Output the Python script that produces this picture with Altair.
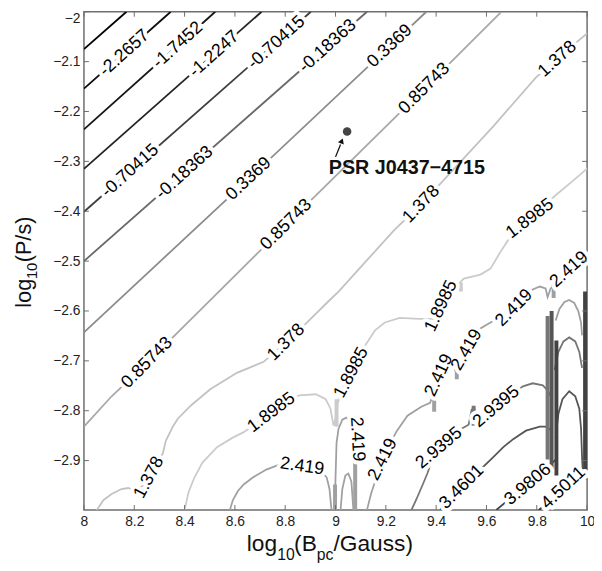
import altair as alt
import pandas as pd

FONT = "Liberation Sans"
FRAME = "#6e6e6e"
W, H = 510, 505

X_TICKS = [8, 8.2, 8.4, 8.6, 8.8, 9, 9.2, 9.4, 9.6, 9.8, 10]
Y_TICKS = [-2, -2.1, -2.2, -2.3, -2.4, -2.5, -2.6, -2.7, -2.8, -2.9]

LEVELS = ["-2.7862", "-2.2657", "-1.7452", "-1.2247", "-0.70415", "-0.18363", "0.3369",
          "0.85743", "1.378", "1.8985", "2.419", "2.9395", "3.4601", "3.9806", "4.5011"]
LEVEL_COLORS = ["#000000", "#0d0d0d", "#151515", "#222222", "#3e3e3e", "#686868", "#8c8c8c",
                "#a8a8a8", "#c2c2c2", "#cbcbcb", "#a0a0a0", "#767676", "#565656", "#424242", "#323232"]

# ---- contour segments ----
S01_X = [8.0, 8.169]
S01_Y = [-2.075, -2.0]
S02_X = [8.0, 8.345]
S02_Y = [-2.154, -2.0]
S03_X = [8.0, 8.522]
S03_Y = [-2.236, -2.0]
S04_X = [8.0, 8.706]
S04_Y = [-2.315, -2.0]
S05_X = [8.0, 8.902]
S05_Y = [-2.401, -2.0]
S06_X = [8.0, 9.125]
S06_Y = [-2.500, -2.0]
S07_X = [8.0, 8.655, 9.216, 9.361]
S07_Y = [-2.643, -2.335, -2.069, -2.0]
S08_X = [8.0, 8.110, 8.251, 8.804, 9.353, 9.659]
S08_Y = [-2.832, -2.771, -2.704, -2.427, -2.154, -2.0]
S09_X = [8.051, 8.078, 8.110, 8.149, 8.176, 8.204, 8.235, 8.259, 8.286, 8.314, 8.325, 8.353,
         8.373, 8.424, 8.502, 8.608, 8.714, 8.804, 8.875, 8.973, 9.012, 9.118, 9.235, 9.341,
         9.471, 9.627, 9.796, 9.882, 9.961, 10.008]
S09_Y = [-2.999, -2.979, -2.967, -2.957, -2.955, -2.961, -2.950, -2.934, -2.908, -2.885, -2.861,
         -2.832, -2.816, -2.790, -2.757, -2.724, -2.702, -2.663, -2.629, -2.580, -2.561, -2.502,
         -2.437, -2.386, -2.315, -2.230, -2.132, -2.095, -2.060, -2.040]
S10_X = [8.400, 8.416, 8.439, 8.471, 8.529, 8.588, 8.635, 8.745, 8.855, 8.922, 8.961, 8.980,
         8.992, 9.000, 9.008, 9.035, 9.063, 9.090, 9.118, 9.157, 9.196, 9.255, 9.333, 9.392,
         9.420, 9.451, 9.490, 9.510, 9.576, 9.616, 9.655, 9.686, 9.773, 9.875, 9.941, 10.008]
S10_Y = [-2.999, -2.963, -2.934, -2.904, -2.873, -2.855, -2.843, -2.804, -2.769, -2.767, -2.777,
         -2.796, -2.830, -2.816, -2.786, -2.747, -2.724, -2.698, -2.669, -2.639, -2.623, -2.614,
         -2.616, -2.616, -2.590, -2.561, -2.545, -2.535, -2.527, -2.515, -2.482, -2.458, -2.415,
         -2.368, -2.340, -2.311]
S11A_X = [8.580, 8.592, 8.612, 8.635, 8.671, 8.725, 8.776, 8.867, 8.945, 8.965, 8.976, 8.984]
S11A_Y = [-2.999, -2.979, -2.961, -2.948, -2.934, -2.918, -2.908, -2.912, -2.922, -2.934, -2.957, -2.999]
S11B_X = [8.996, 9.000, 9.004, 9.012, 9.027, 9.043, 9.059, 9.075, 9.082, 9.082, 9.082]
S11B_Y = [-2.999, -2.934, -2.865, -2.836, -2.818, -2.814, -2.822, -2.847, -2.885, -2.934, -2.999]
S11C_X = [9.020, 9.027, 9.039, 9.051, 9.063, 9.071]
S11C_Y = [-2.999, -2.957, -2.930, -2.926, -2.942, -2.999]
S11D_X = [9.125, 9.141, 9.165, 9.188, 9.212, 9.243, 9.286, 9.341, 9.376, 9.392, 9.412, 9.439,
          9.463, 9.478, 9.494, 9.522, 9.549, 9.576, 9.616, 9.667, 9.710, 9.753, 9.784, 9.812,
          9.835, 9.843, 9.855, 9.875, 9.929, 9.980, 10.008]
S11D_Y = [-2.999, -2.967, -2.930, -2.898, -2.871, -2.841, -2.810, -2.792, -2.784, -2.761, -2.729,
          -2.706, -2.702, -2.722, -2.702, -2.678, -2.655, -2.635, -2.623, -2.610, -2.594, -2.572,
          -2.557, -2.551, -2.555, -2.572, -2.555, -2.547, -2.517, -2.494, -2.482]
S11E_X = [9.875, 9.890, 9.910, 9.929, 9.949, 9.965, 9.976, 9.980]
S11E_Y = [-2.619, -2.596, -2.582, -2.578, -2.584, -2.600, -2.623, -2.649]
S12A_X = [9.302, 9.322, 9.345, 9.365, 9.384, 9.412, 9.451, 9.494, 9.529, 9.541, 9.553, 9.561,
          9.596, 9.639, 9.694, 9.745, 9.784, 9.824, 9.843, 9.855]
S12A_Y = [-2.999, -2.977, -2.950, -2.926, -2.898, -2.875, -2.857, -2.838, -2.828, -2.798, -2.798,
          -2.826, -2.812, -2.792, -2.769, -2.751, -2.745, -2.749, -2.759, -2.771]
S12B_X = [9.871, 9.886, 9.906, 9.929, 9.953, 9.969, 9.980]
S12B_Y = [-2.718, -2.682, -2.661, -2.653, -2.661, -2.682, -2.714]
S13A_X = [9.416, 9.451, 9.502, 9.549, 9.588, 9.627, 9.667, 9.706, 9.757, 9.812, 9.835, 9.855]
S13A_Y = [-2.999, -2.979, -2.953, -2.930, -2.912, -2.893, -2.873, -2.857, -2.840, -2.832, -2.832, -2.838]
S13B_X = [9.875, 9.886, 9.902, 9.929, 9.953, 9.969, 9.976, 9.980, 9.984]
S13B_Y = [-2.855, -2.806, -2.777, -2.761, -2.771, -2.796, -2.836, -2.894, -2.934]
S14_X = [9.639, 9.706, 9.765, 9.831, 9.875]
S14_Y = [-2.999, -2.971, -2.948, -2.920, -2.898]
S15_X = [9.808, 9.863, 9.906, 9.961, 9.992]
S15_Y = [-2.999, -2.977, -2.955, -2.930, -2.914]

SEGMENTS = [
    ("-2.7862", S01_X, S01_Y), ("-2.2657", S02_X, S02_Y), ("-1.7452", S03_X, S03_Y),
    ("-1.2247", S04_X, S04_Y), ("-0.70415", S05_X, S05_Y), ("-0.18363", S06_X, S06_Y),
    ("0.3369", S07_X, S07_Y), ("0.85743", S08_X, S08_Y), ("1.378", S09_X, S09_Y),
    ("1.8985", S10_X, S10_Y), ("2.419", S11A_X, S11A_Y), ("2.419", S11B_X, S11B_Y),
    ("2.419", S11C_X, S11C_Y), ("2.419", S11D_X, S11D_Y), ("2.419", S11E_X, S11E_Y),
    ("2.9395", S12A_X, S12A_Y), ("2.9395", S12B_X, S12B_Y), ("3.4601", S13A_X, S13A_Y),
    ("3.4601", S13B_X, S13B_Y), ("3.9806", S14_X, S14_Y), ("4.5011", S15_X, S15_Y),
]

# thick overlapping contour bundles (vertical streaks)
BAR_LEVEL = ["2.9395", "3.4601", "3.9806", "3.9806", "1.8985", "2.419", "2.419", "2.419",
             "2.419", "2.9395", "1.8985", "2.419"]
BAR_X = [9.843, 9.859, 9.878, 9.992, 9.004, 8.998, 9.078, 9.392, 9.482, 9.549, 9.498, 9.867]
BAR_Y1 = [-2.610, -2.600, -2.659, -2.561, -2.777, -2.948, -2.869, -2.751, -2.712, -2.790, -2.543, -2.547]
BAR_Y2 = [-2.898, -2.918, -2.930, -2.938, -2.832, -2.999, -2.999, -2.802, -2.737, -2.830, -2.561, -2.574]

# inline contour labels
LABEL_TEXT = ["-2.2657", "-1.7452", "-1.2247", "-0.70415", "-0.70415", "-0.18363", "-0.18363",
              "0.3369", "0.3369", "0.85743", "0.85743", "0.85743", "1.378", "1.378", "1.378",
              "1.378", "1.8985", "1.8985", "1.8985", "1.8985", "2.419", "2.419", "2.419", "2.419",
              "2.419", "2.419", "2.419", "2.9395", "2.9395", "3.4601", "3.9806", "4.5011"]
LABEL_X = [8.161, 8.373, 8.518, 8.184, 8.765, 8.400, 8.969, 8.655, 9.216, 8.251, 8.804, 9.353,
           8.259, 8.804, 9.341, 9.882, 8.745, 9.063, 9.420, 9.773, 8.867, 9.086, 9.188, 9.412,
           9.522, 9.710, 9.929, 9.412, 9.639, 9.502, 9.765, 9.906]
LABEL_Y = [-2.083, -2.067, -2.085, -2.319, -2.062, -2.323, -2.069, -2.335, -2.069, -2.704, -2.427,
           -2.154, -2.934, -2.663, -2.386, -2.095, -2.804, -2.724, -2.590, -2.415, -2.912, -2.857,
           -2.898, -2.729, -2.678, -2.594, -2.517, -2.875, -2.792, -2.953, -2.948, -2.955]
LABEL_ANGLE = [318, 318, 318, 318, 318, 318, 318, 317, 317, 315, 315, 315, 298, 315, 314, 318,
               323, 298, 295, 323, 8, 87, 297, 295, 300, 315, 318, 320, 320, 315, 320, 317]

# pulsar annotation
PSR_X = [9.046]
PSR_Y = [-2.240]
PSR_NAME = "PSR J0437\u22124715"
PSR_TEXT_X = [8.973]
PSR_TEXT_Y = [-2.325]
ARROW_X = [9.000, 9.020]
ARROW_Y = [-2.291, -2.266]
ARROW_HEAD_X = [9.025]
ARROW_HEAD_Y = [-2.259]

# ---------------------------------------------------------------
rows = []
for k, (lev, xs, ys) in enumerate(SEGMENTS):
    for i, (xv, yv) in enumerate(zip(xs, ys)):
        rows.append({"seg": k, "i": i, "level": lev, "x": xv, "y": yv})
lines_df = pd.DataFrame(rows)
bars_df = pd.DataFrame({"level": BAR_LEVEL, "x": BAR_X, "y1": BAR_Y1, "y2": BAR_Y2})
labels_df = pd.DataFrame({"t": LABEL_TEXT, "x": LABEL_X, "y": LABEL_Y, "a": LABEL_ANGLE})

XS = alt.Scale(domain=[8, 10], nice=False, zero=False)
YS = alt.Scale(domain=[-2.999, -2.0], nice=False, zero=False)
XAX = alt.Axis(values=X_TICKS, format="~g", title=None, grid=False, domain=False, ticks=False,
               labelFontSize=14, labelColor="#222", labelFont=FONT, labelPadding=5,
               labelFlush=False, labelOverlap=False)
YAX = alt.Axis(values=Y_TICKS, format="~g", title=None, grid=False, domain=False, ticks=False,
               labelFontSize=14, labelColor="#222", labelFont=FONT, labelPadding=4,
               labelFlush=True, labelOverlap=False)


def X(f):
    return alt.X(f"{f}:Q", scale=XS, axis=XAX)


def Y(f):
    return alt.Y(f"{f}:Q", scale=YS, axis=YAX)


COLOR = alt.Color("level:N", scale=alt.Scale(domain=LEVELS, range=LEVEL_COLORS), legend=None)

lines = alt.Chart(lines_df).mark_line(clip=True, strokeWidth=1.8).encode(
    x=X("x"), y=Y("y"), color=COLOR, detail="seg:N", order="i:Q")

bars = alt.Chart(bars_df).mark_rule(clip=True, strokeWidth=4).encode(
    x=X("x"), y=Y("y1"), y2="y2:Q", color=COLOR)

halo = alt.Chart(labels_df).mark_text(fontSize=18, font=FONT, fill="white", stroke="white",
                                      strokeWidth=8, strokeJoin="round").encode(
    x=X("x"), y=Y("y"), text="t:N", angle=alt.Angle("a:Q", scale=None))
labels = alt.Chart(labels_df).mark_text(fontSize=18, font=FONT, color="black").encode(
    x=X("x"), y=Y("y"), text="t:N", angle=alt.Angle("a:Q", scale=None))

xt = pd.DataFrame({"v": X_TICKS})
yt = pd.DataFrame({"v": Y_TICKS})
tick_b = alt.Chart(xt).mark_rule(color=FRAME, strokeWidth=1).encode(
    x=X("v"), y=alt.value(H), y2=alt.value(H - 5))
tick_t = alt.Chart(xt).mark_rule(color=FRAME, strokeWidth=1).encode(
    x=X("v"), y=alt.value(0), y2=alt.value(5))
tick_l = alt.Chart(yt).mark_rule(color=FRAME, strokeWidth=1).encode(
    y=Y("v"), x=alt.value(0), x2=alt.value(5))
tick_r = alt.Chart(yt).mark_rule(color=FRAME, strokeWidth=1).encode(
    y=Y("v"), x=alt.value(W), x2=alt.value(W - 5))

psr_dot = alt.Chart(pd.DataFrame({"x": PSR_X, "y": PSR_Y})).mark_point(
    filled=True, size=75, color="#444444", opacity=1).encode(x=X("x"), y=Y("y"))
arrow = alt.Chart(pd.DataFrame({"x": ARROW_X, "y": ARROW_Y, "i": [0, 1]})).mark_line(
    color="#111", strokeWidth=1.3).encode(x=X("x"), y=Y("y"), order="i:Q")
arrow_head = alt.Chart(pd.DataFrame({"x": ARROW_HEAD_X, "y": ARROW_HEAD_Y})).mark_point(
    shape="triangle-up", filled=True, size=40, color="#111", opacity=1, angle=21).encode(
    x=X("x"), y=Y("y"))
psr_text = alt.Chart(pd.DataFrame({"x": PSR_TEXT_X, "y": PSR_TEXT_Y, "t": [PSR_NAME]})).mark_text(
    fontSize=20, font=FONT, fontWeight="bold", align="left", baseline="alphabetic",
    color="#111").encode(x=X("x"), y=Y("y"), text="t:N")


def piece(text, x, y, size, angle=0):
    return alt.Chart(alt.Data(values=[{"k": 1}])).mark_text(
        text=text, fontSize=size, font=FONT, align="left", baseline="alphabetic",
        angle=angle, color="#111").encode(x=alt.value(x), y=alt.value(y))


titles = [
    piece("log", 165, 547, 23), piece("10", 196, 556, 16), piece("(B", 213, 547, 23),
    piece("pc", 236, 556, 16), piece("/Gauss)", 253, 547, 23),
    piece("log", -54, 300, 22, 270), piece("10", -48, 271, 15, 270),
    piece("(P/s)", -54, 254, 22, 270),
]

chart = alt.layer(
    lines, bars, halo, labels, tick_b, tick_t, tick_l, tick_r,
    arrow, arrow_head, psr_dot, psr_text, *titles
).properties(
    width=W, height=H,
    autosize=alt.AutoSizeParams(type="none"),
    padding={"left": 77, "top": 0, "right": 7, "bottom": 53},
    background="white",
).configure_view(stroke=FRAME, strokeWidth=1.5).configure_text(font=FONT)

chart.save("out.html", embed_options={"renderer": "svg", "actions": False})
